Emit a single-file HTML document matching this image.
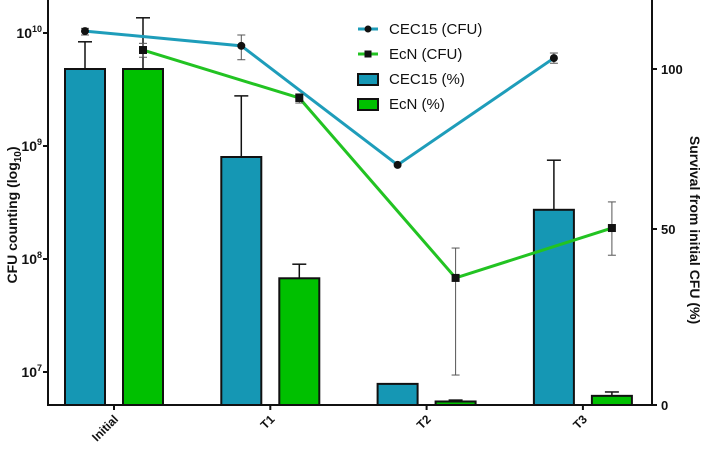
<!DOCTYPE html>
<html><head><meta charset="utf-8"><style>
body{margin:0;background:#fff}
svg text{font-family:"Liberation Sans",sans-serif}
</style></head><body>
<svg id="chart" width="708" height="450" viewBox="0 0 708 450"></svg>
<script>
const categories=["Initial","T1","T2","T3"];
const cecPct=[100,72.5,6,56];
const cecPctErr=[108.5,91.6,6,71.5];
const ecnPct=[100,36,1,2.6];
const ecnPctErr=[116,40,1.4,3.7];
const cecCfu=[1.04e10,7.7e9,6.8e8,6.0e9];
const cecCfuHi=[1.1e10,9.6e9,6.8e8,6.65e9];
const cecCfuLo=[9.6e9,5.8e9,6.8e8,5.4e9];
const ecnCfu=[7.07e9,2.66e9,6.8e7,1.88e8];
const ecnCfuHi=[8.1e9,2.9e9,1.25e8,3.2e8];
const ecnCfuLo=[6.1e9,2.4e9,9.4e6,1.08e8];
const leftTicks=[7,8,9,10];
const rightTicks=[0,50,100];

const NS="http://www.w3.org/2000/svg";
const svg=document.getElementById('chart');
function el(t,a,p){const e=document.createElementNS(NS,t);for(const k in a)e.setAttribute(k,a[k]);(p||svg).appendChild(e);return e;}
const baseY=405, axL=48, axR=652;
function yL(v){return 33-(Math.log10(v)-10)*113;}
function yR(v){return v<=50?405-v*176/50:229-(v-50)*160/50;}
function xC(i){return 114+i*156.3;}
const off=29,bw=40;
const teal="#1597b4",green="#00c000",lteal="#1e9dba",lgreen="#22c322";

categories.forEach((c,i)=>{
  [[cecPct,cecPctErr,teal,-off,'cec15-pct'],[ecnPct,ecnPctErr,green,off,'ecn-pct']].forEach(([v,e,col,o,nm])=>{
    const cx=xC(i)+o, top=yR(v[i]);
    if(e[i]>v[i]){
      const l=el('line',{x1:cx,x2:cx,y1:top,y2:yR(e[i]),stroke:'#111','stroke-width':1.5});
      
      const cap=el('line',{x1:cx-7,x2:cx+7,y1:yR(e[i]),y2:yR(e[i]),stroke:'#111','stroke-width':1.5});
      
    }
    const r=el('rect',{x:cx-bw/2,y:top,width:bw,height:baseY-top,fill:col,stroke:'#111','stroke-width':2});
    
    
  });
});

[[cecCfu,cecCfuHi,cecCfuLo,lteal,-off,'cec15-cfu','circle'],[ecnCfu,ecnCfuHi,ecnCfuLo,lgreen,off,'ecn-cfu','square']].forEach(([v,hi,lo,col,o,nm,mk])=>{
  const pts=v.map((d,i)=>(xC(i)+o)+','+yL(d)).join(' ');
  const pl=el('polyline',{points:pts,fill:'none',stroke:col,'stroke-width':3});
  
  v.forEach((d,i)=>{
    const cx=xC(i)+o;
    if(hi[i]!==lo[i]){
      const g=el('g',{stroke:'#555','stroke-width':1});
      
      el('line',{x1:cx,x2:cx,y1:yL(hi[i]),y2:yL(lo[i])},g);
      el('line',{x1:cx-4,x2:cx+4,y1:yL(hi[i]),y2:yL(hi[i])},g);
      el('line',{x1:cx-4,x2:cx+4,y1:yL(lo[i]),y2:yL(lo[i])},g);
    }
    let m;
    if(mk==='circle')m=el('circle',{cx:cx,cy:yL(d),r:4,fill:'#111'});
    else m=el('rect',{x:cx-4,y:yL(d)-4,width:8,height:8,fill:'#111'});
    
    
  });
});

const ax=el('g',{stroke:'#111','stroke-width':2});

el('line',{x1:axL,x2:axL,y1:0,y2:baseY+1},ax);
el('line',{x1:axR,x2:axR,y1:0,y2:baseY+1},ax);
el('line',{x1:axL,x2:axR,y1:baseY,y2:baseY},ax);
leftTicks.forEach(p=>{
  const y=yL(Math.pow(10,p));
  el('line',{x1:axL-5,x2:axL,y1:y,y2:y,stroke:'#111','stroke-width':2});
  const t=el('text',{x:42,y:y+5,'text-anchor':'end','font-size':14,'font-weight':'bold',fill:'#111'});
  
  t.textContent='10';
  const s=el('tspan',{dy:-6,'font-size':9},t);s.textContent=p;
});
rightTicks.forEach(v=>{
  const y=yR(v);
  el('line',{x1:axR,x2:axR+5,y1:y,y2:y,stroke:'#111','stroke-width':2});
  const t=el('text',{x:661,y:y+5,'font-size':13,'font-weight':'bold',fill:'#111'});
  
  t.textContent=v;
});
categories.forEach((c,i)=>{
  const x=xC(i);
  el('line',{x1:x,x2:x,y1:baseY,y2:baseY+5,stroke:'#111','stroke-width':2});
  const t=el('text',{x:x+5,y:baseY+15,'text-anchor':'end','font-size':12,'font-weight':'bold',fill:'#111',transform:`rotate(-45 ${x+5} ${baseY+15})`});
  
  t.textContent=c;
});
const yt=el('text',{x:0,y:0,'text-anchor':'middle','font-size':14,'font-weight':'bold',fill:'#111',transform:'translate(17 215) rotate(-90)'});

yt.textContent='CFU counting (log';
const sb=el('tspan',{dy:4,'font-size':10},yt);sb.textContent='10';
const sb2=el('tspan',{dy:-4},yt);sb2.textContent=')';
const rt=el('text',{x:0,y:0,'text-anchor':'middle','font-size':14,'font-weight':'bold',fill:'#111',transform:'translate(690 230) rotate(90)'});

rt.textContent='Survival from initial CFU (%)';

const lg=el('g',{});

const entries=[['CEC15 (CFU)','line',lteal,'circle'],['EcN (CFU)','line',lgreen,'square'],['CEC15 (%)','box',teal],['EcN (%)','box',green]];
entries.forEach((e,k)=>{
  const y=29+k*25;
  const g=el('g',{},lg);
  
  if(e[1]==='line'){
    el('line',{x1:358,x2:378,y1:y,y2:y,stroke:e[2],'stroke-width':3},g);
    if(e[3]==='circle')el('circle',{cx:368,cy:y,r:3.5,fill:'#111'},g);
    else el('rect',{x:364.5,y:y-3.5,width:7,height:7,fill:'#111'},g);
  } else {
    el('rect',{x:358,y:y-5,width:20,height:11,fill:e[2],stroke:'#111','stroke-width':2},g);
  }
  const t=el('text',{x:389,y:y+5,'font-size':15,fill:'#111'},g);
  t.textContent=e[0];
});
</script>
</body></html>
